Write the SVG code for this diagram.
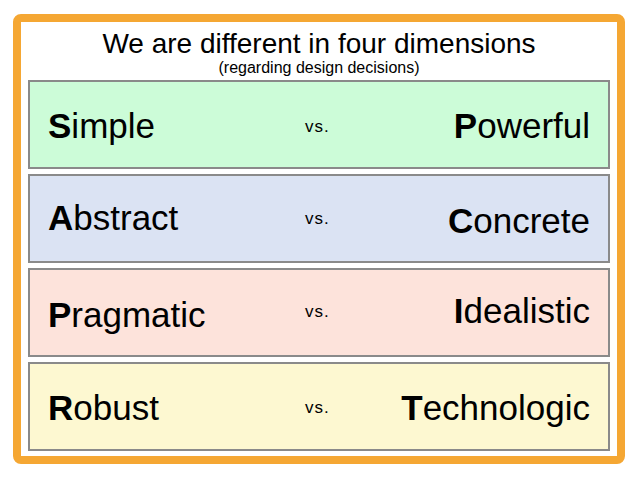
<svg xmlns="http://www.w3.org/2000/svg" width="638" height="479" viewBox="0 0 638 479">
<style>
text{font-family:"Liberation Sans",Arial,sans-serif;fill:#000}
.row rect{stroke:#8a8a8a;stroke-width:2}
.w{font-size:35px}
.v{font-size:17px;letter-spacing:1px}
</style>
<rect width="638" height="479" fill="#fff"/>
<rect id="frame" x="17" y="18" width="604" height="442" rx="4" fill="#fff" stroke="#f5a733" stroke-width="8"/>
<g id="title">
<text x="319" y="53" font-size="28" text-anchor="middle">We are different in four dimensions</text>
<text x="319" y="73" font-size="16" text-anchor="middle">(regarding design decisions)</text>
</g>
<g id="row1" class="row"><rect x="29" y="81" width="580" height="87" fill="#ccfcd8"/>
<text class="w" x="48" y="138"><tspan font-weight="bold">S</tspan>imple</text><text class="v" x="305" y="132">vs.</text><text class="w" x="590" y="138" text-anchor="end"><tspan font-weight="bold">P</tspan>owerful</text></g>
<g id="row2" class="row"><rect x="29" y="175" width="580" height="87" fill="#dbe3f3"/>
<text class="w" x="48" y="230"><tspan font-weight="bold">A</tspan>bstract</text><text class="v" x="305" y="224">vs.</text><text class="w" x="590" y="233" text-anchor="end"><tspan font-weight="bold">C</tspan>oncrete</text></g>
<g id="row3" class="row"><rect x="29" y="269" width="580" height="87" fill="#fde3db"/>
<text class="w" x="48" y="327"><tspan font-weight="bold">P</tspan>ragmatic</text><text class="v" x="305" y="317">vs.</text><text class="w" x="590" y="323" text-anchor="end"><tspan font-weight="bold">I</tspan>dealistic</text></g>
<g id="row4" class="row"><rect x="29" y="363" width="580" height="87" fill="#fdf8d1"/>
<text class="w" x="48" y="420"><tspan font-weight="bold">R</tspan>obust</text><text class="v" x="305" y="413">vs.</text><text class="w" x="590" y="420" text-anchor="end"><tspan font-weight="bold">T</tspan>echnologic</text></g>
</svg>
